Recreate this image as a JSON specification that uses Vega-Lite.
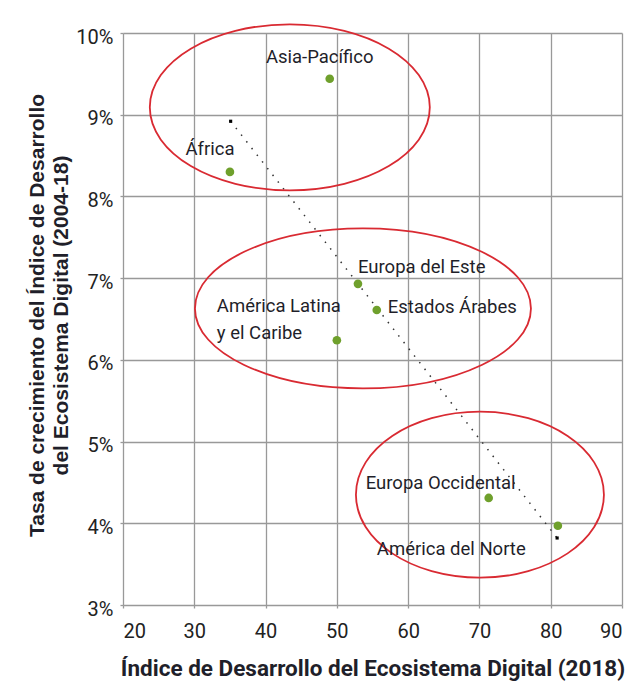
{
  "$schema": "https://vega.github.io/schema/vega-lite/v6.json",
  "width": 499,
  "height": 572,
  "autosize": {"type": "none"},
  "padding": {"left": 123, "top": 33, "right": 12, "bottom": 78},
  "background": "white",
  "config": {"view": {"stroke": null}},
  "datasets": {
    "regions": [
      {"region": "Asia-Pacífico", "x": 49.0, "y": 0.0944},
      {"region": "África", "x": 35.0, "y": 0.0830},
      {"region": "Europa del Este", "x": 52.96, "y": 0.0693},
      {"region": "Estados Árabes", "x": 55.6, "y": 0.0661},
      {"region": "América Latina\ny el Caribe", "x": 50.0, "y": 0.0624},
      {"region": "Europa Occidental", "x": 71.3, "y": 0.0431},
      {"region": "América del Norte", "x": 81.0, "y": 0.0397}
    ],
    "trend": [
      {"x": 35.1, "y": 0.0892},
      {"x": 80.9, "y": 0.0382}
    ],
    "groups": [
      {"id": 1, "x": 43.4, "y": 0.0909},
      {"id": 2, "x": 53.66, "y": 0.0663},
      {"id": 3, "x": 70.07, "y": 0.0435}
    ]
  },
  "encoding": {
    "x": {
      "field": "x", "type": "quantitative",
      "scale": {"domain": [20, 90], "nice": false, "zero": false},
      "axis": {
        "values": [20, 30, 40, 50, 60, 70, 80, 90],
        "domain": false, "grid": true, "gridColor": "#999999", "gridWidth": 1.3,
        "ticks": true, "tickColor": "#999999", "tickSize": 3, "tickWidth": 1.3,
        "labelFont": "Roboto", "labelFontSize": 20, "labelColor": "#222222", "labelPadding": 13,
        "title": "Índice de Desarrollo del Ecosistema Digital (2018)",
        "titleFont": "Roboto", "titleFontSize": 22.5, "titleFontWeight": "bold",
        "titleColor": "#1f1f2a", "titleY": 70, "titleBaseline": "alphabetic"
      }
    },
    "y": {
      "field": "y", "type": "quantitative",
      "scale": {"domain": [0.03, 0.1], "nice": false, "zero": false},
      "axis": {
        "values": [0.03, 0.04, 0.05, 0.06, 0.07, 0.08, 0.09, 0.1],
        "format": ".0%",
        "domain": false, "grid": true, "gridColor": "#999999", "gridWidth": 1.3,
        "ticks": true, "tickColor": "#999999", "tickSize": 3, "tickWidth": 1.3,
        "labelFont": "Roboto", "labelFontSize": 20, "labelColor": "#222222", "labelPadding": 7,
        "labelOffset": 4,
        "title": ["Tasa de crecimiento del Índice de Desarrollo", "del Ecosistema Digital (2004-18)"],
        "titleFont": "Liberation Sans", "titleFontSize": 21, "titleFontWeight": "bold",
        "titleColor": "#1f1f2a", "titleAngle": -90, "titleAlign": "center",
        "titleBaseline": "alphabetic", "titleX": -80, "titleY": 282, "titleLineHeight": 24
      }
    }
  },
  "layer": [
    {
      "data": {"name": "trend"},
      "mark": {"type": "line", "color": "#333333", "strokeWidth": 1.5, "strokeDash": [1.5, 7]}
    },
    {
      "data": {"name": "trend"},
      "mark": {"type": "point", "shape": "square", "filled": true, "color": "#000000", "size": 10, "opacity": 1}
    },
    {
      "data": {"name": "groups"},
      "transform": [{"filter": "datum.id == 1"}],
      "mark": {"type": "point", "shape": "M -140 0 A 140 83 0 1 1 140 0 A 140 83 0 1 1 -140 0 Z", "size": 4, "filled": false, "stroke": "#d92a32", "strokeWidth": 1.8, "opacity": 1}
    },
    {
      "data": {"name": "groups"},
      "transform": [{"filter": "datum.id == 2"}],
      "mark": {"type": "point", "shape": "M -168 0 A 168 80 0 1 1 168 0 A 168 80 0 1 1 -168 0 Z", "size": 4, "filled": false, "stroke": "#d92a32", "strokeWidth": 1.8, "opacity": 1}
    },
    {
      "data": {"name": "groups"},
      "transform": [{"filter": "datum.id == 3"}],
      "mark": {"type": "point", "shape": "M -124 0 A 124 83 0 1 1 124 0 A 124 83 0 1 1 -124 0 Z", "size": 4, "filled": false, "stroke": "#d92a32", "strokeWidth": 1.8, "opacity": 1}
    },
    {
      "data": {"name": "regions"},
      "mark": {"type": "point", "shape": "circle", "filled": true, "color": "#6fa02c", "size": 75, "opacity": 1}
    },
    {
      "data": {"name": "regions"},
      "transform": [{"filter": "datum.region == 'Asia-Pacífico'"}],
      "mark": {"type": "text", "font": "Roboto", "fontSize": 18.5, "color": "#1f1f2a", "align": "center", "baseline": "alphabetic", "dx": -10, "dy": -16},
      "encoding": {"text": {"field": "region"}}
    },
    {
      "data": {"name": "regions"},
      "transform": [{"filter": "datum.region == 'África'"}],
      "mark": {"type": "text", "font": "Roboto", "fontSize": 18.5, "color": "#1f1f2a", "align": "center", "baseline": "alphabetic", "dx": -20, "dy": -17},
      "encoding": {"text": {"field": "region"}}
    },
    {
      "data": {"name": "regions"},
      "transform": [{"filter": "datum.region == 'Europa del Este'"}],
      "mark": {"type": "text", "font": "Roboto", "fontSize": 18.5, "color": "#1f1f2a", "align": "left", "baseline": "alphabetic", "dx": 0, "dy": -11},
      "encoding": {"text": {"field": "region"}}
    },
    {
      "data": {"name": "regions"},
      "transform": [{"filter": "datum.region == 'Estados Árabes'"}],
      "mark": {"type": "text", "font": "Roboto", "fontSize": 18.5, "color": "#1f1f2a", "align": "left", "baseline": "alphabetic", "dx": 11, "dy": 3},
      "encoding": {"text": {"field": "region"}}
    },
    {
      "data": {"name": "regions"},
      "transform": [{"filter": "indexof(datum.region, 'Latina') >= 0"}],
      "mark": {"type": "text", "font": "Roboto", "fontSize": 18.5, "color": "#1f1f2a", "align": "left", "baseline": "alphabetic", "dx": -120, "dy": -28, "lineBreak": "\n", "lineHeight": 27},
      "encoding": {"text": {"field": "region"}}
    },
    {
      "data": {"name": "regions"},
      "transform": [{"filter": "datum.region == 'Europa Occidental'"}],
      "mark": {"type": "text", "font": "Roboto", "fontSize": 18.5, "color": "#1f1f2a", "align": "left", "baseline": "alphabetic", "dx": -123, "dy": -9},
      "encoding": {"text": {"field": "region"}}
    },
    {
      "data": {"name": "regions"},
      "transform": [{"filter": "datum.region == 'América del Norte'"}],
      "mark": {"type": "text", "font": "Roboto", "fontSize": 18.5, "color": "#1f1f2a", "align": "left", "baseline": "alphabetic", "dx": -181, "dy": 29},
      "encoding": {"text": {"field": "region"}}
    }
  ]
}
